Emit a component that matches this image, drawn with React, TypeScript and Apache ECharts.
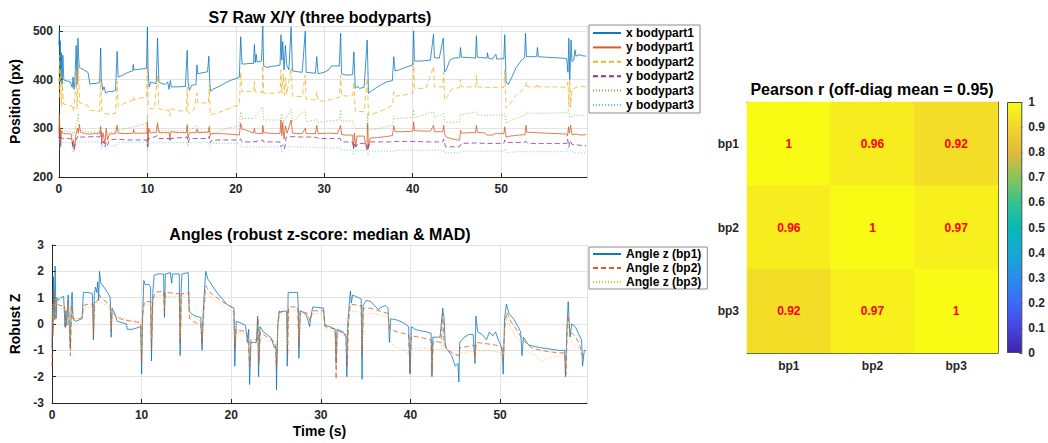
import { useEffect, useRef } from 'react';
import * as echarts from 'echarts';

const FONT = '"Liberation Sans", Arial, Helvetica, sans-serif';
const INK = '#262626';
const GRID_LINE = '#E3E3E3';

type Pt = [number, number];

// ---- Raw X/Y trajectories: [time (s), position (px)] ----
const xBodypart1: Pt[] = [
  [0, 470], [0.05, 500], [0.1, 420], [0.15, 480], [0.2, 395], [0.28, 455], [0.35, 390], [0.45, 450], [0.55, 400],
  [0.7, 398], [1.0, 397], [1.3, 395], [1.5, 384], [1.6, 405], [1.7, 380], [1.8, 395], [1.95, 470], [2.05, 390],
  [2.15, 485], [2.25, 440], [2.3, 425], [2.6, 422], [3.0, 418], [3.3, 414], [3.5, 390], [3.7, 392], [4.2, 392],
  [4.6, 394], [4.72, 465], [4.8, 400], [4.95, 378], [5.1, 385], [5.3, 372], [5.6, 376], [6.0, 375], [6.4, 378],
  [6.58, 458], [6.7, 405], [7.0, 407], [7.5, 412], [8.0, 416], [8.35, 418], [8.4, 431], [8.45, 420], [9.0, 421],
  [9.5, 422], [9.9, 423], [10.0, 508], [10.08, 420], [10.2, 385], [10.4, 395], [10.7, 393], [11.0, 392], [11.15, 485],
  [11.3, 395], [11.6, 392], [12.0, 390], [12.3, 395], [12.45, 380], [12.6, 398], [12.7, 385], [13.5, 385], [14.3, 386],
  [14.5, 460], [14.6, 395], [14.75, 378], [15.0, 388], [15.5, 390], [15.6, 430], [15.7, 412], [16.2, 414], [16.8, 416],
  [16.95, 448], [17.05, 395], [17.15, 376], [17.5, 381], [18.0, 385], [18.5, 390], [19.0, 395], [19.5, 399], [20.0, 402],
  [20.4, 405], [20.55, 488], [20.7, 432], [21.0, 432], [21.5, 433], [22.0, 433], [22.1, 472], [22.2, 435], [22.3, 452],
  [22.4, 436], [22.9, 438], [23.05, 510], [23.15, 428], [23.5, 425], [24.0, 427], [24.5, 428], [25.0, 430], [25.1, 492],
  [25.2, 440], [25.3, 478], [25.45, 420], [25.6, 470], [25.75, 430], [26.0, 420], [26.25, 508], [26.4, 418], [27.0, 416],
  [27.5, 415], [27.85, 499], [27.95, 415], [28.5, 414], [29.0, 413], [29.15, 447], [29.3, 412], [30.0, 415], [30.5, 420],
  [30.8, 428], [31.2, 428], [31.7, 428], [31.85, 495], [31.95, 412], [32.5, 409], [33.2, 410], [33.35, 457], [33.5, 382],
  [33.7, 386], [34.0, 382], [34.5, 384], [34.85, 481], [35.0, 372], [35.3, 376], [36.0, 385], [36.5, 390], [37.0, 395],
  [37.7, 398], [37.85, 447], [38.0, 418], [38.5, 420], [39.0, 424], [39.5, 427], [40.0, 430], [40.1, 500], [40.2, 438],
  [41.0, 438], [42.0, 440], [42.35, 493], [42.45, 445], [43.0, 444], [43.45, 485], [43.6, 416], [43.8, 420], [44.2, 440],
  [44.6, 444], [45.3, 445], [45.4, 466], [45.5, 446], [46.5, 445], [47.1, 444], [47.2, 490], [47.3, 446], [48.4, 444],
  [48.45, 455], [48.55, 444], [49.0, 442], [49.4, 452], [49.5, 442], [50.3, 443], [50.4, 492], [50.55, 395], [50.8, 390],
  [51.2, 405], [51.7, 425], [52.3, 440], [52.65, 445], [52.75, 495], [52.85, 447], [53.5, 447], [54.0, 447], [54.1, 466],
  [54.2, 447], [55.0, 446], [56.0, 445], [57.0, 444], [57.4, 443], [57.55, 415], [57.65, 485], [57.75, 400], [57.9, 481],
  [58.0, 437], [58.2, 440], [58.35, 461], [58.45, 448], [58.8, 451], [59.2, 449], [59.6, 448],
];

const yBodypart1: Pt[] = [
  [0, 290], [0.05, 330], [0.1, 270], [0.15, 300], [0.2, 262], [0.3, 295], [0.5, 289], [1.0, 289], [1.4, 288],
  [1.55, 262], [1.65, 275], [1.75, 255], [1.9, 285], [2.1, 300], [2.2, 290], [2.3, 308], [2.45, 292], [3.0, 289],
  [3.5, 288], [4.0, 289], [4.6, 289], [4.72, 304], [4.85, 275], [5.0, 290], [5.2, 268], [5.35, 300], [5.5, 276],
  [5.7, 288], [6.4, 289], [6.58, 306], [6.7, 290], [7.5, 289], [8.4, 290], [8.45, 298], [8.5, 290], [9.5, 290],
  [9.95, 290], [10.0, 313], [10.06, 262], [10.15, 300], [10.3, 291], [11.0, 291], [11.15, 310], [11.3, 291],
  [12.45, 291], [12.55, 278], [12.65, 293], [13.5, 291], [14.4, 291], [14.5, 306], [14.6, 280], [14.75, 291],
  [15.5, 291], [15.6, 298], [15.7, 291], [16.9, 292], [17.0, 303], [17.1, 285], [17.3, 289], [18.5, 289], [20.0, 287],
  [20.4, 286], [20.55, 310], [20.7, 298], [21.0, 297], [21.5, 294], [22.0, 290], [22.1, 300], [22.2, 290], [23.0, 289],
  [23.05, 306], [23.15, 291], [24.5, 289], [25.0, 290], [25.1, 317], [25.2, 285], [25.3, 312], [25.45, 278], [25.6, 305],
  [25.8, 290], [26.25, 317], [26.4, 290], [27.5, 289], [27.85, 300], [27.95, 289], [29.0, 289], [29.15, 306], [29.3, 289],
  [30.5, 290], [31.5, 289], [31.85, 306], [31.95, 287], [32.5, 286], [33.2, 286], [33.3, 258], [33.4, 290], [33.55, 262],
  [33.7, 284], [34.5, 284], [34.8, 256], [34.9, 310], [35.0, 262], [35.2, 280], [36.0, 281], [37.0, 283], [37.7, 285],
  [37.85, 305], [38.0, 293], [39.0, 293], [40.0, 294], [40.1, 313], [40.2, 295], [42.0, 294], [42.35, 306], [42.45, 293],
  [43.4, 293], [43.5, 306], [43.6, 288], [43.8, 282], [44.3, 279], [45.0, 276], [45.3, 276], [45.4, 296], [45.5, 290],
  [46.5, 291], [47.1, 291], [47.2, 306], [47.3, 292], [48.2, 290], [48.4, 286], [49.0, 286], [49.4, 290], [49.6, 289],
  [50.3, 289], [50.4, 303], [50.55, 282], [51.0, 284], [52.0, 286], [52.7, 287], [52.8, 306], [52.9, 292], [54.0, 291],
  [55.0, 290], [56.5, 289], [57.4, 288], [57.5, 284], [57.6, 303], [57.7, 290], [57.85, 306], [58.0, 287], [58.5, 288],
  [59.0, 286], [59.6, 287],
];

const xBodypart2: Pt[] = [
  [0, 395], [0.05, 450], [0.1, 360], [0.2, 420], [0.3, 345], [0.4, 390], [0.5, 350], [1.0, 348], [1.5, 345],
  [1.6, 335], [1.75, 345], [1.95, 420], [2.05, 340], [2.2, 430], [2.35, 352], [2.8, 350], [3.3, 346], [3.5, 337],
  [4.0, 336], [4.6, 334], [4.72, 403], [4.85, 335], [5.2, 330], [6.0, 329], [6.4, 331], [6.58, 396], [6.7, 345],
  [7.5, 352], [8.4, 358], [8.45, 365], [8.5, 358], [9.2, 362], [9.9, 365], [10.0, 427], [10.1, 345], [10.3, 340],
  [10.8, 340], [11.15, 409], [11.3, 340], [12.0, 337], [12.45, 337], [12.55, 325], [12.65, 340], [13.5, 336],
  [14.4, 335], [14.5, 385], [14.6, 335], [14.75, 330], [15.3, 340], [15.6, 372], [15.7, 352], [16.4, 352], [16.9, 352],
  [17.0, 389], [17.1, 327], [17.5, 330], [18.5, 335], [19.5, 343], [20.4, 348], [20.55, 416], [20.7, 375], [21.5, 376],
  [22.0, 375], [22.1, 396], [22.2, 375], [23.0, 374], [23.05, 430], [23.15, 372], [24.0, 372], [25.0, 373], [25.1, 420],
  [25.2, 372], [25.35, 412], [25.5, 368], [25.6, 405], [25.75, 370], [26.25, 424], [26.4, 366], [27.5, 365], [27.85, 409],
  [27.95, 360], [29.0, 358], [29.15, 375], [29.3, 356], [30.0, 356], [31.0, 360], [31.7, 364], [31.85, 409], [31.95, 368],
  [32.5, 366], [33.2, 367], [33.35, 395], [33.5, 335], [34.5, 334], [34.85, 403], [35.0, 327], [35.5, 330], [36.5, 336],
  [37.7, 347], [37.85, 375], [38.0, 366], [39.0, 368], [40.0, 372], [40.1, 437], [40.2, 382], [41.5, 382], [42.35, 427],
  [42.45, 385], [43.4, 385], [43.5, 415], [43.6, 358], [43.8, 362], [44.4, 380], [45.3, 384], [45.4, 400], [45.5, 385],
  [47.1, 385], [47.2, 409], [47.3, 385], [49.0, 384], [50.3, 384], [50.4, 420], [50.55, 341], [51.0, 350], [51.7, 368],
  [52.4, 378], [52.75, 385], [52.85, 395], [53.0, 385], [54.0, 385], [54.1, 392], [54.2, 385], [56.0, 385], [57.4, 384],
  [57.55, 395], [57.65, 344], [57.75, 400], [57.85, 342], [58.0, 380], [58.5, 384], [59.0, 386], [59.6, 385],
];

const yBodypart2: Pt[] = [
  [0, 280], [0.05, 290], [0.1, 265], [0.2, 282], [0.4, 279], [1.0, 279], [1.5, 278], [1.6, 258], [1.75, 262],
  [1.9, 275], [2.2, 285], [2.4, 282], [3.0, 282], [4.0, 283], [4.6, 282], [4.75, 292], [4.85, 265], [5.0, 274],
  [5.2, 262], [5.35, 272], [5.5, 266], [5.7, 276], [6.6, 278], [7.5, 276], [8.5, 276], [9.5, 276], [9.95, 276],
  [10.02, 262], [10.1, 280], [10.3, 279], [11.15, 285], [11.3, 279], [12.5, 279], [12.55, 272], [12.65, 279],
  [14.5, 282], [14.6, 270], [14.75, 279], [16.9, 279], [17.0, 284], [17.1, 270], [17.3, 276], [19.0, 276], [20.4, 276],
  [20.55, 278], [20.7, 272], [22.0, 272], [23.05, 276], [23.15, 272], [25.0, 272], [25.1, 262], [25.3, 266], [25.5, 258],
  [25.7, 282], [26.5, 283], [27.5, 282], [28.5, 282], [29.2, 281], [29.3, 279], [31.0, 279], [31.8, 279], [31.95, 272],
  [33.2, 272], [33.3, 258], [33.45, 270], [33.6, 262], [33.8, 269], [34.8, 269], [34.95, 254], [35.1, 272], [36.5, 272],
  [37.8, 272], [38.0, 273], [40.0, 273], [42.0, 272], [43.4, 272], [43.5, 278], [43.7, 262], [45.3, 262], [45.5, 269],
  [47.2, 270], [48.0, 269], [50.3, 269], [50.4, 276], [50.6, 271], [52.5, 271], [52.8, 273], [53.0, 269], [57.4, 269],
  [57.5, 278], [57.65, 262], [57.8, 275], [58.0, 267], [59.0, 265], [59.6, 264],
];

const xBodypart3: Pt[] = [
  [0, 300], [0.1, 313], [0.2, 292], [0.3, 300], [0.5, 295], [1.5, 292], [1.6, 285], [1.75, 290], [2.2, 330],
  [2.35, 296], [3.0, 294], [3.5, 292], [4.6, 292], [4.72, 300], [4.85, 290], [6.4, 292], [6.58, 300], [6.7, 295],
  [7.5, 300], [8.5, 303], [9.5, 308], [9.95, 310], [10.0, 327], [10.1, 296], [11.0, 295], [11.15, 313], [11.3, 295],
  [14.4, 294], [14.5, 310], [14.6, 294], [15.6, 306], [15.7, 294], [16.9, 294], [17.0, 305], [17.1, 289], [18.0, 293],
  [19.0, 300], [20.4, 305], [20.55, 334], [20.7, 320], [22.0, 320], [23.05, 344], [23.15, 317], [25.0, 317], [25.2, 330],
  [25.4, 312], [26.25, 340], [26.4, 313], [27.85, 338], [27.95, 313], [29.15, 318], [29.3, 312], [30.5, 315], [31.7, 317],
  [31.85, 338], [31.95, 315], [33.2, 315], [33.35, 305], [33.5, 300], [34.8, 300], [34.9, 330], [35.0, 296], [36.0, 299],
  [37.7, 306], [37.85, 325], [38.0, 320], [39.0, 321], [40.0, 322], [40.1, 338], [40.2, 322], [42.35, 334], [42.45, 322],
  [43.5, 330], [43.6, 312], [45.3, 313], [45.4, 330], [45.5, 327], [47.2, 334], [47.3, 327], [50.3, 327], [50.4, 330],
  [50.55, 310], [51.3, 318], [52.7, 327], [52.85, 333], [53.0, 331], [55.0, 331], [57.4, 332], [57.6, 340], [57.75, 322],
  [58.2, 327], [59.6, 327],
];

const yBodypart3: Pt[] = [
  [0, 268], [0.05, 285], [0.1, 255], [0.2, 272], [0.5, 271], [1.5, 270], [1.6, 250], [1.75, 258], [2.0, 270],
  [2.3, 272], [4.6, 272], [4.8, 258], [5.0, 266], [5.3, 257], [5.5, 265], [6.5, 264], [6.7, 271], [8.0, 271],
  [9.95, 271], [10.02, 255], [10.1, 270], [12.5, 271], [14.5, 270], [14.6, 262], [14.75, 271], [16.9, 271], [17.05, 262],
  [17.2, 269], [20.4, 269], [20.6, 262], [22.0, 262], [25.1, 262], [25.2, 252], [25.4, 258], [25.6, 262], [27.0, 262],
  [29.2, 261], [29.4, 260], [31.8, 260], [32.0, 255], [33.2, 255], [33.3, 245], [33.45, 254], [34.8, 255], [34.95, 245],
  [35.1, 253], [37.8, 253], [38.0, 255], [40.0, 255], [43.4, 255], [43.5, 250], [43.7, 250], [45.3, 250], [45.5, 253],
  [50.3, 253], [50.45, 258], [50.6, 250], [52.0, 252], [57.4, 252], [57.6, 262], [57.8, 255], [58.2, 250], [59.6, 249],
];

// ---- Joint angles, robust z-score: [time (s), z] ----
const angleZBp1: Pt[] = [
  [0, -0.9], [0.05, 0.6], [0.1, -0.3], [0.15, 1.8], [0.25, 0.3], [0.35, 2.2], [0.45, 0.2], [0.55, 1.0], [0.7, 0.9],
  [1.0, 1.0], [1.3, 1.05], [1.45, -0.1], [1.55, 0.5], [1.65, -0.05], [1.8, 1.1], [1.9, 0.2], [2.05, -0.9], [2.15, 0.9],
  [2.25, 1.2], [2.35, 0.2], [2.6, 0.1], [3.0, 0.15], [3.35, 0.2], [3.5, 1.2], [4.0, 1.2], [4.5, 1.15], [4.62, -0.6],
  [4.72, 1.1], [4.85, 1.4], [5.0, 1.2], [5.1, 1.6], [5.2, 0.9], [5.3, 2.0], [5.45, 1.55], [5.8, 1.4], [6.2, 1.2],
  [6.5, 1.0], [6.6, -0.5], [6.7, 0.6], [7.0, 0.4], [7.3, 0.1], [7.8, 0.05], [8.3, 0.0], [8.4, -0.2], [9.0, -0.2],
  [9.9, -0.1], [10.0, -1.9], [10.1, 0.2], [10.25, 1.65], [10.4, 1.5], [10.8, 1.5], [11.0, 1.4], [11.1, -1.4],
  [11.25, 1.2], [11.4, 1.85], [11.8, 1.9], [12.2, 1.9], [12.45, 1.9], [12.55, 0.25], [12.65, 1.9], [13.2, 1.95],
  [13.35, 1.55], [13.45, 1.9], [14.2, 1.9], [14.3, -1.2], [14.4, 1.2], [14.5, 1.9], [15.2, 1.95], [15.3, 0.5],
  [15.5, 0.4], [16.0, 0.3], [16.6, 0.25], [16.75, -1.0], [16.85, 0.3], [17.05, 1.5], [17.15, 2.0], [17.4, 1.7],
  [17.6, 1.6], [18.0, 1.4], [18.5, 1.15], [19.0, 0.95], [19.5, 0.75], [20.0, 0.65], [20.3, 0.6], [20.4, -1.6],
  [20.55, 0.1], [21.0, 0.05], [21.6, -0.05], [21.8, -0.7], [21.95, -0.2], [22.05, -2.3], [22.2, -0.7], [22.8, -0.7],
  [22.95, 0.3], [23.05, -2.0], [23.2, -0.1], [23.6, -0.3], [24.0, -0.4], [24.5, -0.55], [24.8, -0.9], [25.0, -0.85],
  [25.05, -2.5], [25.2, 0.0], [25.35, 0.5], [25.5, 0.45], [26.0, 0.5], [26.2, 0.45], [26.25, -1.6], [26.35, 1.2],
  [27.4, 1.2], [27.5, 0.5], [27.55, -1.3], [27.7, 0.5], [28.3, 0.4], [28.6, 0.1], [28.75, -0.1], [28.9, 0.3],
  [29.1, 0.65], [30.3, 0.6], [30.45, -0.05], [31.0, -0.1], [31.6, -0.2], [31.7, -1.5], [31.8, -0.2], [32.5, -0.3],
  [32.8, -0.5], [32.9, -2.0], [33.0, 0.0], [33.2, 0.9], [33.3, 1.25], [33.4, 0.8], [33.55, 1.1], [34.2, 1.0],
  [34.5, 0.95], [34.6, -2.1], [34.7, 0.7], [35.1, 0.9], [35.6, 0.85], [36.0, 0.7], [36.4, 0.55], [36.8, 0.65],
  [37.2, 0.7], [37.5, 0.6], [37.65, -0.7], [37.8, 0.2], [38.5, 0.15], [39.2, 0.05], [39.8, -0.1], [39.95, -1.9],
  [40.1, -0.1], [40.5, -0.2], [41.0, -0.25], [41.8, -0.3], [42.3, -0.35], [42.4, -2.0], [42.5, -0.5], [43.3, -0.5],
  [43.6, 0.6], [43.75, 0.2], [43.9, -0.9], [44.2, -1.0], [44.6, -1.2], [45.0, -1.6], [45.3, -1.5], [45.4, -2.2],
  [45.5, -0.7], [46.0, -0.5], [46.5, -0.4], [47.0, -0.4], [47.2, -1.5], [47.3, 0.3], [47.5, -0.3], [48.0, -0.4],
  [48.5, -0.6], [48.8, -0.3], [49.2, -0.45], [49.5, -0.3], [49.8, -0.6], [50.2, -0.9], [50.35, -1.9], [50.5, 0.2],
  [50.7, 0.75], [51.0, 0.4], [51.5, 0.2], [52.0, -0.1], [52.3, -0.3], [52.45, -1.2], [52.6, -0.5], [53.2, -0.8],
  [53.8, -0.85], [54.5, -0.9], [55.5, -0.95], [56.5, -1.0], [57.2, -1.0], [57.3, -2.0], [57.45, -0.3], [57.6, 0.85],
  [57.8, -0.5], [58.0, 0.0], [58.4, -0.1], [58.8, -0.4], [59.1, -0.6], [59.2, -1.6], [59.4, -1.0], [59.6, -1.0],
];

const angleZBp2: Pt[] = [
  [0, -1.6], [0.05, 0.3], [0.1, -0.5], [0.2, 1.3], [0.3, 0.1], [0.4, 0.9], [0.55, 0.75], [1.0, 0.7], [1.4, 0.7],
  [1.5, -0.2], [1.65, 0.3], [1.8, 0.9], [1.95, -0.3], [2.05, -1.2], [2.2, 0.7], [2.35, 0.2], [3.0, 0.2], [3.4, 0.25],
  [3.5, 0.7], [4.0, 0.75], [4.6, 0.75], [4.65, -0.4], [4.75, 0.8], [5.0, 0.85], [5.3, 1.1], [5.5, 1.0], [6.0, 0.85],
  [6.5, 0.7], [6.6, -0.3], [6.7, 0.45], [7.3, 0.25], [8.0, 0.15], [9.0, 0.1], [9.9, 0.05], [10.0, -1.5], [10.1, 0.3],
  [10.3, 0.85], [11.0, 0.85], [11.1, -1.0], [11.25, 0.9], [11.5, 1.2], [12.45, 1.25], [12.55, 0.5], [12.65, 1.2],
  [14.2, 1.15], [14.3, -0.8], [14.45, 1.15], [15.25, 1.2], [15.35, 0.2], [16.0, 0.05], [16.6, 0.0], [16.75, -0.8],
  [16.9, 0.3], [17.15, 1.45], [17.6, 1.2], [18.2, 1.05], [19.0, 0.85], [19.7, 0.7], [20.3, 0.6], [20.4, -1.0],
  [20.55, -0.2], [21.0, -0.25], [21.7, -0.3], [21.9, -0.6], [22.05, -1.6], [22.2, -0.6], [22.9, -0.6], [23.0, 0.2],
  [23.1, -1.5], [23.25, -0.3], [24.0, -0.5], [24.9, -0.7], [25.05, -1.7], [25.2, 0.0], [25.4, 0.45], [26.2, 0.5],
  [26.3, -1.2], [26.4, 0.65], [27.4, 0.65], [27.55, -0.9], [27.7, 0.5], [28.5, 0.4], [28.8, 0.1], [29.1, 0.5],
  [30.3, 0.5], [30.45, -0.1], [31.6, -0.2], [31.7, -2.1], [31.85, -0.25], [32.8, -0.4], [32.95, -1.6], [33.1, 0.1],
  [33.3, 0.75], [34.5, 0.7], [34.6, -1.2], [34.75, 0.6], [35.5, 0.6], [36.5, 0.5], [37.5, 0.4], [37.7, -0.2],
  [38.5, -0.3], [39.8, -0.4], [39.95, -1.9], [40.1, -0.45], [41.0, -0.5], [42.3, -0.6], [42.4, -1.9], [42.55, -0.65],
  [43.4, -0.7], [43.6, 0.4], [43.75, -0.7], [44.2, -1.0], [45.0, -1.15], [45.4, -1.2], [45.5, -0.9], [46.5, -0.85],
  [47.1, -0.8], [47.2, -1.3], [47.35, -0.7], [48.5, -0.75], [49.5, -0.8], [50.2, -0.9], [50.35, -1.4], [50.55, 0.0],
  [50.75, 0.45], [51.2, 0.1], [52.0, -0.3], [52.5, -0.6], [53.5, -0.9], [54.5, -1.0], [55.5, -1.05], [56.5, -1.1],
  [57.25, -1.1], [57.35, -1.9], [57.55, 0.35], [57.8, -0.3], [58.2, -0.4], [58.8, -0.7], [59.2, -1.2], [59.6, -1.1],
];

const angleZBp3: Pt[] = [
  [0, -0.3], [0.1, 0.8], [0.2, 0.2], [0.35, 1.1], [0.5, 0.6], [1.0, 0.6], [1.4, 0.6], [1.55, 0.0], [1.8, 0.7],
  [2.05, -0.6], [2.2, 0.6], [2.4, 0.2], [3.4, 0.2], [3.5, 0.6], [4.6, 0.65], [4.7, -0.2], [4.8, 0.7], [5.3, 0.85],
  [5.6, 0.8], [6.0, 0.7], [6.5, 0.5], [6.65, -0.1], [6.75, 0.35], [7.5, 0.25], [8.5, 0.15], [9.9, 0.1], [10.0, -1.0],
  [10.15, 0.3], [10.3, 0.75], [11.0, 0.75], [11.1, -0.6], [11.3, 0.8], [11.5, 1.05], [12.5, 1.1], [12.55, 0.6],
  [12.65, 1.05], [14.3, 1.05], [14.35, -0.4], [14.5, 1.1], [15.3, 1.15], [15.4, 0.3], [16.0, 0.2], [16.7, 0.1],
  [16.8, -0.5], [16.95, 0.3], [17.15, 1.2], [17.6, 1.05], [18.5, 0.85], [19.5, 0.6], [20.3, 0.45], [20.4, -0.6],
  [20.55, -0.3], [21.7, -0.4], [21.9, -0.7], [22.05, -1.3], [22.2, -0.7], [22.9, -0.7], [23.0, 0.0], [23.1, -1.0],
  [23.25, -0.5], [24.5, -0.7], [24.9, -0.8], [25.05, -1.2], [25.2, 0.0], [25.4, 0.35], [26.2, 0.4], [26.3, -0.8],
  [26.4, 0.5], [27.4, 0.5], [27.55, -0.5], [27.7, 0.4], [28.5, 0.35], [28.8, 0.15], [29.1, 0.4], [30.3, 0.4],
  [30.45, -0.2], [31.6, -0.3], [31.7, -1.3], [31.85, -0.35], [32.8, -0.45], [32.95, -1.2], [33.1, 0.0], [33.3, 0.5],
  [34.5, 0.45], [34.6, -0.8], [34.75, 0.4], [35.5, 0.4], [36.5, 0.35], [37.5, 0.25], [37.7, -0.5], [38.0, -0.8],
  [38.5, -0.9], [39.5, -1.0], [39.95, -1.2], [40.1, -0.95], [41.0, -0.9], [42.3, -0.95], [42.4, -1.5], [42.55, -0.95],
  [43.4, -1.0], [43.6, -0.2], [43.75, -1.0], [44.5, -1.1], [45.2, -1.2], [45.5, -1.1], [46.5, -1.05], [47.1, -1.05],
  [47.2, -1.4], [47.35, -1.0], [48.5, -1.0], [49.5, -1.05], [50.2, -1.1], [50.35, -1.3], [50.55, -0.2], [50.75, 0.3],
  [51.2, -0.2], [52.0, -0.6], [52.6, -0.9], [53.2, -1.1], [54.0, -1.2], [54.6, -1.45], [55.2, -1.3], [56.0, -1.25],
  [57.25, -1.2], [57.35, -1.6], [57.55, 0.2], [57.8, -0.6], [58.3, -0.8], [58.9, -1.0], [59.2, -1.35], [59.6, -1.3],
];

// ---- Correlation matrix between bodyparts ----
const bodyparts = ['bp1', 'bp2', 'bp3'];
const pearsonR: number[][] = [
  [1, 0.96, 0.92],
  [0.96, 1, 0.97],
  [0.92, 0.97, 1],
];

// parula colormap, 0 → 1 in steps of 0.1
const parula = [
  '#3E26A8', '#4743E2', '#3A6CF8', '#2A8DE9', '#14A9D3', '#07BAB4',
  '#33C38C', '#8BC45A', '#E3B93A', '#F2D52B', '#F9FB15',
];

const TIME_MAX = 59.7;

const DASHED = [5, 3];
const DOTTED = [1, 2];

const rawSeries = [
  { name: 'x bodypart1', data: xBodypart1, color: '#0072BD', type: 'solid' as any },
  { name: 'y bodypart1', data: yBodypart1, color: '#D95319', type: 'solid' as any },
  { name: 'x bodypart2', data: xBodypart2, color: '#EDB120', type: DASHED },
  { name: 'y bodypart2', data: yBodypart2, color: '#7E2F8E', type: DASHED },
  { name: 'x bodypart3', data: xBodypart3, color: '#77AC30', type: DOTTED },
  { name: 'y bodypart3', data: yBodypart3, color: '#4DBEEE', type: DOTTED },
];

const angleSeries = [
  { name: 'Angle z (bp1)', data: angleZBp1, color: '#0072BD', type: 'solid' as any },
  { name: 'Angle z (bp2)', data: angleZBp2, color: '#D95319', type: DASHED },
  { name: 'Angle z (bp3)', data: angleZBp3, color: '#EDB120', type: DOTTED },
];

function buildOption(): echarts.EChartsOption {
  const labelStyle = { color: INK, fontFamily: FONT, fontWeight: 'bold' as const, fontSize: 12 };
  const nameStyle = { color: '#000', fontFamily: FONT, fontWeight: 'bold' as const, fontSize: 14 };
  const axisLine = { show: true, onZero: false, lineStyle: { color: INK, width: 1 } };
  const axisTick = { show: true, inside: true, length: 4, lineStyle: { color: INK } };
  const splitLine = { show: true, lineStyle: { color: GRID_LINE, width: 1 } };

  const timeAxis = (gridIndex: number, withName: boolean) => ({
    type: 'value' as const,
    gridIndex,
    min: 0,
    max: TIME_MAX,
    interval: 10,
    axisLine,
    axisTick,
    splitLine,
    axisLabel: { ...labelStyle, margin: 6, showMaxLabel: false },
    ...(withName
      ? { name: 'Time (s)', nameLocation: 'middle' as const, nameGap: 21, nameTextStyle: nameStyle }
      : {}),
  });

  const offDiag: number[] = [];
  pearsonR.forEach((row, i) => row.forEach((v, j) => { if (i !== j) offDiag.push(v); }));
  const offDiagMean = offDiag.reduce((a, b) => a + b, 0) / offDiag.length;

  const heatData: [number, number, number][] = [];
  pearsonR.forEach((row, i) => row.forEach((v, j) => heatData.push([j, i, v])));

  const lineOf = (s: any, axisIndex: number) => ({
    type: 'line' as const,
    name: s.name,
    data: s.data,
    xAxisIndex: axisIndex,
    yAxisIndex: axisIndex,
    symbol: 'none',
    showSymbol: false,
    silent: true,
    lineStyle: { color: s.color, width: 0.8, type: s.type, opacity: 0.95 },
    itemStyle: { color: s.color },
    emphasis: { disabled: true },
  });

  const series: any[] = [
    ...rawSeries.map((s) => lineOf(s, 0)),
    ...angleSeries.map((s) => lineOf(s, 1)),
  ];
  const heatIndex = series.length;
  series.push({
    type: 'heatmap',
    xAxisIndex: 2,
    yAxisIndex: 2,
    data: heatData,
    silent: true,
    label: {
      show: true,
      color: '#FF0000',
      fontFamily: FONT,
      fontWeight: 'bold',
      fontSize: 12,
      formatter: (p: any) => String(p.value[2]),
    },
    emphasis: { disabled: true },
  });
  series.push({
    type: 'bar',
    xAxisIndex: 4,
    yAxisIndex: 4,
    data: [1],
    barWidth: '100%',
    silent: true,
    itemStyle: {
      color: new echarts.graphic.LinearGradient(
        0, 1, 0, 0,
        parula.map((c, i) => ({ offset: i / (parula.length - 1), color: c })),
      ),
      borderColor: '#4D4D4D',
      borderWidth: 1,
    },
  });

  const boxLine = { show: true, onZero: false, lineStyle: { color: '#4D4D4D', width: 1 } };
  const catTick = { show: true, inside: true, length: 4, alignWithLabel: true, lineStyle: { color: '#4D4D4D' } };

  const legendBase = {
    orient: 'vertical' as const,
    left: 589,
    itemWidth: 28,
    itemHeight: 12,
    backgroundColor: '#FFFFFF',
    borderColor: '#8C8C8C',
    borderWidth: 1,
    borderRadius: 0,
    selectedMode: false,
    // line-only legend keys: hide the marker that is drawn on top of the line
    itemStyle: { opacity: 0 },
    textStyle: { color: '#000', fontFamily: FONT, fontWeight: 'bold' as const, fontSize: 12 },
  };

  const titleText = (text: string, x: number, y: number) => ({
    type: 'text' as const,
    x,
    y,
    silent: true,
    style: {
      text,
      fill: '#000',
      fontFamily: FONT,
      fontWeight: 'bold',
      fontSize: 16,
      textAlign: 'center',
      textVerticalAlign: 'middle',
      align: 'center',
      verticalAlign: 'middle',
    } as any,
  });

  return {
    animation: false,
    backgroundColor: '#FFFFFF',
    textStyle: { fontFamily: FONT },
    grid: [
      { left: 52, top: 26, width: 535, height: 151 },
      { left: 52, top: 245, width: 535, height: 158 },
      { left: 747, top: 102, width: 251, height: 251 },
      { left: 1007, top: 102, width: 16, height: 251 },
    ],
    xAxis: [
      timeAxis(0, false),
      timeAxis(1, true),
      {
        type: 'category', gridIndex: 2, data: bodyparts, axisLine: boxLine, axisTick: catTick,
        axisLabel: { ...labelStyle, margin: 7 }, splitLine: { show: false },
      },
      {
        type: 'category', gridIndex: 2, data: bodyparts, position: 'top', axisLine: boxLine,
        axisTick: catTick, axisLabel: { show: false }, splitLine: { show: false },
      },
      {
        type: 'category', gridIndex: 3, data: [''], show: false,
      },
    ] as any,
    yAxis: [
      {
        type: 'value', gridIndex: 0, min: 200, max: 510, interval: 100, axisLine, axisTick, splitLine,
        axisLabel: { ...labelStyle, margin: 6, showMaxLabel: false },
        name: 'Position (px)', nameLocation: 'middle', nameGap: 30, nameTextStyle: nameStyle,
      },
      {
        type: 'value', gridIndex: 1, min: -3, max: 3, interval: 1, axisLine, axisTick, splitLine,
        axisLabel: { ...labelStyle, margin: 8 },
        name: 'Robust Z', nameLocation: 'middle', nameGap: 24, nameTextStyle: nameStyle,
      },
      {
        type: 'category', gridIndex: 2, data: bodyparts, inverse: true, axisLine: boxLine, axisTick: catTick,
        axisLabel: { ...labelStyle, margin: 8 }, splitLine: { show: false },
      },
      {
        type: 'category', gridIndex: 2, data: bodyparts, inverse: true, position: 'right', axisLine: boxLine,
        axisTick: catTick, axisLabel: { show: false }, splitLine: { show: false },
      },
      {
        type: 'value', gridIndex: 3, min: 0, max: 1, interval: 0.1, position: 'right',
        axisLine: { show: false },
        axisTick: { show: true, inside: true, length: 3, lineStyle: { color: '#4D4D4D' } },
        splitLine: { show: false },
        axisLabel: { ...labelStyle, margin: 6, formatter: (v: number) => String(Math.round(v * 10) / 10) },
      },
    ] as any,
    visualMap: {
      type: 'continuous',
      show: false,
      min: 0,
      max: 1,
      dimension: 2,
      seriesIndex: heatIndex,
      inRange: { color: parula },
    },
    legend: [
      {
        ...legendBase,
        top: 25,
        itemGap: 2.4,
        padding: [2, 6, 2, 3],
        data: rawSeries.map((s) => s.name),
      },
      {
        ...legendBase,
        top: 247,
        itemGap: 2,
        padding: [1, 6, 1, 3],
        data: angleSeries.map((s) => s.name),
      },
    ] as any,
    graphic: [
      titleText('S7 Raw X/Y (three bodyparts)', 320, 17),
      titleText('Angles (robust z-score: median & MAD)', 320, 234),
      titleText(`Pearson r (off-diag mean = ${offDiagMean.toFixed(2)})`, 872, 89),
    ],
    series,
  };
}

export default function App() {
  const ref = useRef<HTMLDivElement>(null);

  useEffect(() => {
    if (!ref.current) return;
    const chart = echarts.init(ref.current, undefined, { renderer: 'svg' });
    chart.setOption(buildOption());
    return () => chart.dispose();
  }, []);

  return (
    <div
      ref={ref}
      style={{ position: 'absolute', left: 0, top: 0, width: 1048, height: 443, background: '#fff' }}
    />
  );
}
